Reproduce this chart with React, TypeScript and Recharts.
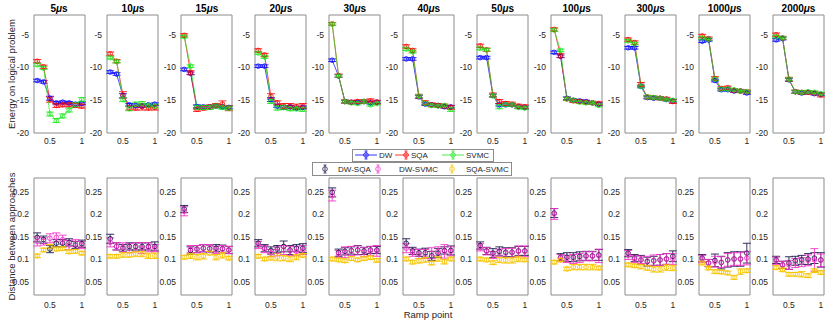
import React from 'react';
import { ComposedChart, Line, Scatter, XAxis, YAxis, ErrorBar, ReferenceArea } from 'recharts';

const rampPoints = [0.3, 0.4, 0.5, 0.6, 0.7, 0.8, 0.9, 1.0];
const annealTimes = ['5', '10', '15', '20', '30', '40', '50', '100', '300', '1000', '2000'];
const energyTicks = [-20, -15, -10, -5];
const distanceTicks = [0.05, 0.1, 0.15, 0.2, 0.25];
const rampTicks = [0.5, 1];

// energy per anneal time (one row per panel)
const dwEnergy = [
  [-12.0, -12.2, -14.7, -15.4, -15.3, -15.4, -15.6, -15.5],
  [-10.7, -11.0, -14.3, -15.7, -15.8, -15.9, -15.7, -15.6],
  [-10.3, -10.9, -16.0, -16.0, -16.0, -15.9, -16.0, -16.1],
  [-9.8, -9.8, -14.9, -15.9, -16.1, -16.0, -16.2, -16.1],
  [-8.9, -11.3, -15.2, -15.3, -15.3, -15.2, -15.4, -15.3],
  [-8.7, -8.7, -14.5, -15.6, -15.7, -15.8, -16.0, -16.0],
  [-8.5, -8.5, -14.3, -15.7, -15.7, -15.7, -16.0, -16.1],
  [-7.7, -8.3, -14.7, -15.0, -15.1, -15.2, -15.4, -15.6],
  [-7.0, -7.0, -12.9, -14.6, -14.7, -14.7, -14.9, -15.1],
  [-6.0, -5.8, -12.0, -13.4, -13.4, -13.6, -13.6, -13.9],
  [-5.8, -5.6, -11.9, -13.7, -13.9, -13.8, -14.0, -14.1],
];
const sqaEnergy = [
  [-9.05, -9.9, -14.9, -15.8, -15.7, -15.7, -15.8, -15.9],
  [-7.9, -9.05, -14.2, -16.2, -16.2, -16.0, -16.2, -16.1],
  [-5.1, -10.8, -16.4, -16.2, -16.0, -15.8, -15.6, -16.2],
  [-7.4, -8.1, -14.4, -15.4, -15.9, -15.9, -16.0, -15.9],
  [-3.35, -11.25, -15.2, -15.3, -15.2, -15.2, -15.1, -15.3],
  [-6.8, -7.4, -14.4, -15.4, -15.7, -15.8, -15.9, -16.1],
  [-6.7, -7.3, -14.2, -15.2, -15.5, -15.6, -15.9, -16.0],
  [-4.2, -8.2, -14.8, -15.1, -15.2, -15.3, -15.4, -15.5],
  [-5.75, -6.2, -12.6, -14.5, -14.6, -14.7, -14.8, -15.2],
  [-5.2, -5.6, -11.7, -13.2, -13.1, -13.5, -13.6, -13.7],
  [-5.0, -5.5, -11.8, -13.7, -13.8, -13.8, -13.9, -14.2],
];
const svmcEnergy = [
  [-9.6, -10.1, -17.1, -18.1, -17.4, -16.5, -15.7, -14.9],
  [-8.5, -9.1, -14.9, -16.3, -15.6, -15.5, -15.8, -15.9],
  [-5.3, -9.8, -16.1, -16.1, -16.1, -15.9, -16.1, -16.2],
  [-7.8, -8.4, -15.2, -16.2, -16.1, -16.3, -16.3, -16.4],
  [-3.4, -11.3, -15.2, -15.4, -15.5, -15.2, -15.7, -15.5],
  [-7.2, -7.6, -14.4, -15.5, -15.8, -15.9, -15.8, -16.4],
  [-7.1, -7.3, -14.3, -16.0, -15.7, -15.7, -16.1, -16.2],
  [-4.3, -7.4, -14.8, -15.0, -15.3, -15.4, -15.4, -15.8],
  [-5.95, -6.35, -12.9, -14.5, -14.6, -14.7, -14.9, -15.0],
  [-5.5, -5.7, -11.8, -13.3, -13.3, -13.4, -13.6, -13.7],
  [-5.3, -5.5, -11.8, -13.7, -13.8, -13.7, -13.8, -14.0],
];
const dwEnergyErr = [
  [0.2, 0.2, 0.3, 0.2, 0.2, 0.2, 0.2, 0.2],
  [0.2, 0.2, 0.3, 0.2, 0.2, 0.2, 0.2, 0.2],
  [0.2, 0.2, 0.3, 0.2, 0.2, 0.2, 0.2, 0.2],
  [0.2, 0.2, 0.3, 0.2, 0.3, 0.2, 0.2, 0.2],
  [0.2, 0.2, 0.2, 0.2, 0.2, 0.2, 0.2, 0.2],
  [0.2, 0.2, 0.2, 0.2, 0.2, 0.2, 0.2, 0.2],
  [0.2, 0.2, 0.2, 0.2, 0.2, 0.2, 0.2, 0.2],
  [0.2, 0.2, 0.2, 0.2, 0.2, 0.2, 0.2, 0.2],
  [0.2, 0.2, 0.2, 0.2, 0.2, 0.2, 0.2, 0.2],
  [0.2, 0.2, 0.2, 0.2, 0.2, 0.2, 0.2, 0.2],
  [0.2, 0.2, 0.2, 0.2, 0.2, 0.2, 0.2, 0.2],
];
const sqaEnergyErr = [
  [0.25, 0.25, 0.4, 0.3, 0.3, 0.3, 0.3, 0.3],
  [0.25, 0.25, 0.5, 0.3, 0.3, 0.5, 0.3, 0.4],
  [0.25, 0.3, 0.3, 0.3, 0.3, 0.3, 0.5, 0.4],
  [0.25, 0.25, 0.4, 0.3, 0.4, 0.4, 0.4, 0.4],
  [0.2, 0.25, 0.25, 0.25, 0.25, 0.25, 0.3, 0.3],
  [0.25, 0.25, 0.3, 0.3, 0.3, 0.3, 0.3, 0.3],
  [0.25, 0.25, 0.3, 0.3, 0.3, 0.3, 0.3, 0.3],
  [0.25, 0.3, 0.25, 0.25, 0.25, 0.25, 0.25, 0.25],
  [0.25, 0.25, 0.3, 0.25, 0.25, 0.25, 0.25, 0.3],
  [0.25, 0.25, 0.3, 0.25, 0.25, 0.25, 0.25, 0.25],
  [0.25, 0.25, 0.3, 0.25, 0.25, 0.25, 0.25, 0.3],
];
const svmcEnergyErr = [
  [0.2, 0.2, 0.3, 0.3, 0.3, 0.3, 0.3, 0.3],
  [0.2, 0.2, 0.3, 0.3, 0.3, 0.3, 0.3, 0.3],
  [0.2, 0.2, 0.3, 0.3, 0.3, 0.3, 0.3, 0.3],
  [0.2, 0.2, 0.3, 0.3, 0.3, 0.3, 0.3, 0.3],
  [0.2, 0.2, 0.2, 0.2, 0.2, 0.2, 0.2, 0.2],
  [0.2, 0.2, 0.2, 0.2, 0.2, 0.2, 0.2, 0.3],
  [0.2, 0.2, 0.2, 0.3, 0.2, 0.2, 0.2, 0.2],
  [0.2, 0.2, 0.2, 0.2, 0.2, 0.2, 0.2, 0.2],
  [0.2, 0.2, 0.2, 0.2, 0.2, 0.2, 0.2, 0.2],
  [0.2, 0.2, 0.2, 0.2, 0.2, 0.2, 0.2, 0.2],
  [0.2, 0.2, 0.2, 0.2, 0.2, 0.2, 0.2, 0.2],
];

// distances per anneal time
const dwSqaDist = [
  [0.148, 0.143, 0.122, 0.135, 0.135, 0.137, 0.131, 0.134],
  [0.145, 0.128, 0.124, 0.128, 0.128, 0.128, 0.128, 0.128],
  [0.211, 0.119, 0.122, 0.124, 0.123, 0.124, 0.123, 0.12],
  [0.135, 0.124, 0.119, 0.122, 0.128, 0.12, 0.124, 0.124],
  [0.248, 0.114, 0.117, 0.119, 0.12, 0.118, 0.12, 0.12],
  [0.135, 0.118, 0.114, 0.114, 0.107, 0.113, 0.119, 0.119],
  [0.13, 0.118, 0.113, 0.117, 0.115, 0.115, 0.118, 0.118],
  [0.202, 0.104, 0.104, 0.104, 0.106, 0.107, 0.107, 0.109],
  [0.113, 0.102, 0.098, 0.094, 0.096, 0.098, 0.1, 0.106],
  [0.102, 0.091, 0.097, 0.092, 0.098, 0.1, 0.1, 0.113],
  [0.098, 0.087, 0.091, 0.096, 0.098, 0.1, 0.102, 0.098],
];
const dwSvmcDist = [
  [0.139, 0.139, 0.146, 0.148, 0.143, 0.131, 0.135, 0.131],
  [0.137, 0.128, 0.126, 0.124, 0.126, 0.124, 0.126, 0.124],
  [0.206, 0.122, 0.122, 0.124, 0.124, 0.12, 0.122, 0.12],
  [0.131, 0.122, 0.113, 0.117, 0.12, 0.118, 0.117, 0.12],
  [0.241, 0.111, 0.115, 0.118, 0.119, 0.115, 0.118, 0.118],
  [0.124, 0.114, 0.111, 0.111, 0.113, 0.117, 0.117, 0.117],
  [0.126, 0.117, 0.109, 0.114, 0.113, 0.114, 0.117, 0.117],
  [0.2, 0.102, 0.1, 0.1, 0.102, 0.106, 0.106, 0.107],
  [0.109, 0.1, 0.098, 0.096, 0.097, 0.098, 0.1, 0.1],
  [0.1, 0.091, 0.094, 0.093, 0.098, 0.1, 0.1, 0.102],
  [0.096, 0.087, 0.087, 0.091, 0.093, 0.097, 0.098, 0.097],
];
const sqaSvmcDist = [
  [0.107, 0.12, 0.128, 0.122, 0.123, 0.116, 0.117, 0.113],
  [0.106, 0.106, 0.109, 0.109, 0.111, 0.111, 0.107, 0.107],
  [0.104, 0.107, 0.104, 0.106, 0.113, 0.104, 0.108, 0.102],
  [0.106, 0.1, 0.102, 0.104, 0.102, 0.1, 0.104, 0.108],
  [0.1, 0.098, 0.096, 0.101, 0.098, 0.101, 0.103, 0.097],
  [0.1, 0.093, 0.096, 0.098, 0.091, 0.1, 0.094, 0.1],
  [0.1, 0.098, 0.092, 0.098, 0.097, 0.097, 0.1, 0.098],
  [0.093, 0.098, 0.078, 0.082, 0.082, 0.082, 0.082, 0.08],
  [0.087, 0.085, 0.083, 0.08, 0.077, 0.077, 0.081, 0.08],
  [0.091, 0.08, 0.072, 0.071, 0.069, 0.059, 0.072, 0.074],
  [0.081, 0.076, 0.066, 0.066, 0.066, 0.063, 0.074, 0.07],
];
const dwSqaErr = [
  [0.01, 0.008, 0.008, 0.008, 0.008, 0.008, 0.008, 0.008],
  [0.01, 0.008, 0.008, 0.008, 0.008, 0.008, 0.008, 0.01],
  [0.008, 0.008, 0.008, 0.008, 0.008, 0.008, 0.008, 0.008],
  [0.008, 0.008, 0.008, 0.008, 0.012, 0.01, 0.008, 0.01],
  [0.01, 0.008, 0.008, 0.008, 0.01, 0.008, 0.008, 0.008],
  [0.01, 0.008, 0.008, 0.01, 0.01, 0.01, 0.008, 0.01],
  [0.008, 0.008, 0.01, 0.01, 0.01, 0.01, 0.01, 0.01],
  [0.01, 0.008, 0.01, 0.01, 0.01, 0.01, 0.01, 0.012],
  [0.008, 0.008, 0.01, 0.01, 0.01, 0.012, 0.012, 0.012],
  [0.008, 0.008, 0.014, 0.014, 0.016, 0.016, 0.016, 0.022],
  [0.008, 0.008, 0.014, 0.01, 0.01, 0.012, 0.012, 0.016],
];
const dwSvmcErr = [
  [0.01, 0.008, 0.01, 0.01, 0.01, 0.01, 0.008, 0.008],
  [0.01, 0.008, 0.01, 0.01, 0.01, 0.012, 0.01, 0.008],
  [0.01, 0.008, 0.008, 0.008, 0.008, 0.008, 0.008, 0.008],
  [0.008, 0.008, 0.008, 0.01, 0.01, 0.01, 0.01, 0.01],
  [0.012, 0.008, 0.012, 0.01, 0.01, 0.01, 0.01, 0.012],
  [0.01, 0.008, 0.01, 0.01, 0.012, 0.01, 0.015, 0.01],
  [0.008, 0.008, 0.008, 0.008, 0.01, 0.01, 0.012, 0.012],
  [0.012, 0.008, 0.008, 0.01, 0.01, 0.01, 0.01, 0.015],
  [0.01, 0.008, 0.008, 0.01, 0.012, 0.012, 0.012, 0.012],
  [0.008, 0.008, 0.012, 0.012, 0.014, 0.014, 0.014, 0.015],
  [0.008, 0.008, 0.01, 0.01, 0.01, 0.012, 0.025, 0.014],
];
const sqaSvmcErr = [
  [0.004, 0.004, 0.004, 0.004, 0.004, 0.004, 0.004, 0.004],
  [0.004, 0.004, 0.005, 0.005, 0.005, 0.006, 0.006, 0.006],
  [0.004, 0.006, 0.006, 0.006, 0.004, 0.006, 0.006, 0.004],
  [0.004, 0.004, 0.004, 0.008, 0.006, 0.006, 0.006, 0.004],
  [0.004, 0.004, 0.004, 0.004, 0.004, 0.004, 0.004, 0.004],
  [0.004, 0.004, 0.005, 0.005, 0.004, 0.005, 0.005, 0.004],
  [0.004, 0.004, 0.004, 0.006, 0.006, 0.006, 0.006, 0.004],
  [0.004, 0.004, 0.004, 0.006, 0.006, 0.006, 0.006, 0.004],
  [0.004, 0.004, 0.005, 0.005, 0.006, 0.006, 0.006, 0.006],
  [0.004, 0.004, 0.004, 0.004, 0.004, 0.004, 0.006, 0.004],
  [0.004, 0.004, 0.004, 0.004, 0.006, 0.004, 0.004, 0.004],
];

const BLUE = '#0000ff';
const RED = '#ff0000';
const GREEN = '#1ee61e';
const NAVY = '#1b1b4d';
const MAGENTA = '#f536c8';
const YELLOW = '#f7c400';
const BOX = '#8c8c8c';
const TEXT = '#262626';
const FONT = '"Liberation Sans", Arial, sans-serif';

// layout (plot boxes)
const X0 = 33.5;
const STEP = 73.95;
const PW = 51;
const YW = 26;
const TOP1 = 15;
const H1 = 118;
const TOP2 = 178;
const H2 = 117;

const tickStyle = { fontSize: 8.5, fill: TEXT, fontFamily: FONT };
const fmtRamp = (v: number) => (v === 1 ? '1' : String(v));

const EnergyPanel = ({ i }: { i: number }) => {
  const rows = rampPoints.map((x, k) => ({
    x,
    dw: dwEnergy[i][k],
    dwErr: dwEnergyErr[i][k],
    sqa: sqaEnergy[i][k],
    sqaErr: sqaEnergyErr[i][k],
    svmc: svmcEnergy[i][k],
    svmcErr: svmcEnergyErr[i][k],
  }));
  const series = [
    { key: 'dw', color: BLUE },
    { key: 'sqa', color: RED },
    { key: 'svmc', color: GREEN },
  ];
  return (
    <div style={{ position: 'absolute', left: X0 + STEP * i - YW, top: TOP1 - 1 }}>
      <ComposedChart width={YW + PW + 1} height={1 + H1 + 16} data={rows} margin={{ top: 1, right: 1, left: 0, bottom: 0 }}>
        <XAxis dataKey="x" type="number" domain={[0.25, 1.05]} ticks={rampTicks} tickFormatter={fmtRamp}
          height={16} axisLine={false} tickLine={false} tickSize={3} tickMargin={2} tick={tickStyle} allowDataOverflow />
        <YAxis type="number" domain={[-20, -2]} ticks={energyTicks} width={YW}
          axisLine={false} tickLine={false} tickSize={3} tickMargin={2} tick={tickStyle} allowDataOverflow />
        <ReferenceArea x1={0.25} x2={1.05} y1={-20} y2={-2} fill="none" stroke={BOX} strokeWidth={1} />
        {series.map((s) => (
          <Line key={s.key} dataKey={s.key} stroke={s.color} strokeWidth={0.7} isAnimationActive={false}
            dot={{ r: 2.3, fill: 'none', stroke: s.color, strokeWidth: 0.8 }} activeDot={false}>
            <ErrorBar dataKey={s.key + 'Err'} direction="y" width={4} stroke={s.color} strokeWidth={0.8} />
          </Line>
        ))}
      </ComposedChart>
    </div>
  );
};

const DistancePanel = ({ i }: { i: number }) => {
  const rows = rampPoints.map((x, k) => ({
    x,
    a: dwSqaDist[i][k],
    aErr: dwSqaErr[i][k],
    b: dwSvmcDist[i][k],
    bErr: dwSvmcErr[i][k],
    c: sqaSvmcDist[i][k],
    cErr: sqaSvmcErr[i][k],
  }));
  const series = [
    { key: 'a', color: NAVY },
    { key: 'b', color: MAGENTA },
    { key: 'c', color: YELLOW },
  ];
  return (
    <div style={{ position: 'absolute', left: X0 + STEP * i - YW, top: TOP2 - 1 }}>
      <ComposedChart width={YW + PW + 1} height={1 + H2 + 18} data={rows} margin={{ top: 1, right: 1, left: 0, bottom: 0 }}>
        <XAxis dataKey="x" type="number" domain={[0.25, 1.05]} ticks={rampTicks} tickFormatter={fmtRamp}
          height={18} axisLine={false} tickLine={false} tickSize={3} tickMargin={4} tick={tickStyle} allowDataOverflow />
        <YAxis type="number" domain={[0.02, 0.28]} ticks={distanceTicks} width={YW}
          axisLine={false} tickLine={false} tickSize={3} tickMargin={2} tick={tickStyle} allowDataOverflow />
        <ReferenceArea x1={0.25} x2={1.05} y1={0.02} y2={0.28} fill="none" stroke={BOX} strokeWidth={1} />
        {series.map((s) => (
          <Scatter key={s.key} dataKey={s.key} isAnimationActive={false} fill="none"
            shape={(p: any) => <circle cx={p.cx} cy={p.cy} r={2.3} fill="none" stroke={s.color} strokeWidth={0.9} />}>
            <ErrorBar dataKey={s.key + 'Err'} direction="y" width={4} stroke={s.color} strokeWidth={0.9} />
          </Scatter>
        ))}
      </ComposedChart>
    </div>
  );
};

const ErrIcon = ({ x, color, line }: { x: number; color: string; line?: [number, number] }) => (
  <g>
    {line && <line x1={line[0]} x2={line[1]} y1={6} y2={6} stroke={color} strokeWidth={0.8} />}
    <line x1={x} x2={x} y1={2} y2={10} stroke={color} strokeWidth={0.8} />
    <line x1={x - 1.5} x2={x + 1.5} y1={2} y2={2} stroke={color} strokeWidth={0.8} />
    <line x1={x - 1.5} x2={x + 1.5} y1={10} y2={10} stroke={color} strokeWidth={0.8} />
    <circle cx={x} cy={6} r={2.3} fill="none" stroke={color} strokeWidth={0.8} />
  </g>
);

const Legends = () => (
  <>
    <svg style={{ position: 'absolute', left: 352, top: 149 }} width={142} height={13}>
      <rect x={0.5} y={0.5} width={141} height={12} fill="#fff" stroke={BOX} strokeWidth={1} />
      <ErrIcon x={14} color={BLUE} line={[3, 25]} />
      <text x={27} y={9.3} fontSize={8} fill={TEXT} fontFamily={FONT}>DW</text>
      <ErrIcon x={54} color={RED} line={[43, 57]} />
      <text x={59} y={9.3} fontSize={8} fill={TEXT} fontFamily={FONT}>SQA</text>
      <ErrIcon x={101} color={GREEN} line={[90, 112]} />
      <text x={114} y={9.3} fontSize={8} fill={TEXT} fontFamily={FONT}>SVMC</text>
    </svg>
    <svg style={{ position: 'absolute', left: 312, top: 162 }} width={200} height={14}>
      <rect x={0.5} y={0.5} width={199} height={13} fill="#fff" stroke={BOX} strokeWidth={1} />
      <g transform="translate(0,1)">
        <ErrIcon x={13} color={NAVY} />
        <text x={26} y={9.3} fontSize={8} fill={TEXT} fontFamily={FONT}>DW-SQA</text>
        <ErrIcon x={66} color={MAGENTA} />
        <text x={87} y={9.3} fontSize={8} fill={TEXT} fontFamily={FONT}>DW-SVMC</text>
        <ErrIcon x={140} color={YELLOW} />
        <text x={154} y={9.3} fontSize={8} fill={TEXT} fontFamily={FONT}>SQA-SVMC</text>
      </g>
    </svg>
  </>
);

export default function App() {
  return (
    <div style={{ position: 'absolute', left: 0, top: 0, width: 830, height: 323, background: '#fff', fontFamily: FONT }}>
      {annealTimes.map((t, i) => (
        <div key={'t' + t} style={{ position: 'absolute', left: X0 + STEP * i - 10, width: PW + 20, top: 1.5, textAlign: 'center',
          fontSize: 10, fontWeight: 'bold', color: '#000', lineHeight: '13px' }}>
          {t}<i>μ</i>s
        </div>
      ))}
      {annealTimes.map((t, i) => <EnergyPanel key={'e' + t} i={i} />)}
      {annealTimes.map((t, i) => <DistancePanel key={'d' + t} i={i} />)}
      <Legends />
      <svg style={{ position: 'absolute', left: 0, top: 0, pointerEvents: 'none' }} width={830} height={323}>
        <text x={11} y={74} transform="rotate(-90 11 74)" textAnchor="middle" dominantBaseline="central"
          fontSize={9.5} fill={TEXT} fontFamily={FONT}>Energy on logical problem</text>
        <text x={11} y={236.5} transform="rotate(-90 11 236.5)" textAnchor="middle" dominantBaseline="central"
          fontSize={9.5} fill={TEXT} fontFamily={FONT}>Distance between approaches</text>
        <text x={428} y={314} textAnchor="middle" dominantBaseline="central"
          fontSize={9.5} fill={TEXT} fontFamily={FONT}>Ramp point</text>
      </svg>
    </div>
  );
}
